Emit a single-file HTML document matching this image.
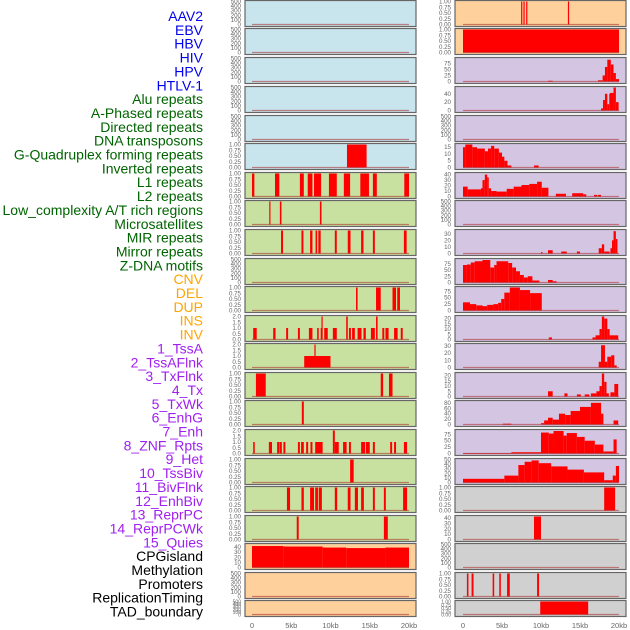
<!DOCTYPE html>
<html><head><meta charset="utf-8">
<style>
body{margin:0;background:#fff;}
svg{display:block;font-family:"Liberation Sans",sans-serif;}
</style></head>
<body>
<svg id="chart" width="630" height="630" viewBox="0 0 630 630"></svg>
<script>
const labels = ["AAV2","EBV","HBV","HIV","HPV","HTLV-1","Alu repeats","A-Phased repeats","Directed repeats","DNA transposons","G-Quadruplex forming repeats","Inverted repeats","L1 repeats","L2 repeats","Low_complexity A/T rich regions","Microsatellites","MIR repeats","Mirror repeats","Z-DNA motifs","CNV","DEL","DUP","INS","INV","1_TssA","2_TssAFlnk","3_TxFlnk","4_Tx","5_TxWk","6_EnhG","7_Enh","8_ZNF_Rpts","9_Het","10_TssBiv","11_BivFlnk","12_EnhBiv","13_ReprPC","14_ReprPCWk","15_Quies","CPGisland","Methylation","Promoters","ReplicationTiming","TAD_boundary"];
const labelColors = ["#0000ee","#0000ee","#0000ee","#0000ee","#0000ee","#0000ee","#006400","#006400","#006400","#006400","#006400","#006400","#006400","#006400","#006400","#006400","#006400","#006400","#006400","#ffa500","#ffa500","#ffa500","#ffa500","#ffa500","#a020f0","#a020f0","#a020f0","#a020f0","#a020f0","#a020f0","#a020f0","#a020f0","#a020f0","#a020f0","#a020f0","#a020f0","#a020f0","#a020f0","#a020f0","#000","#000","#000","#000","#000"];
const xTicks = [0,5,10,15,20];
const xTickLabels = ["0","5kb","10kb","15kb","20kb"];
const T500=[0,100,200,300,400,500], T1=[0,0.25,0.5,0.75,1], T2=[0,0.5,1,1.5,2];
const LB="#c8e4ec", GR="#c8e0a0", OR="#fdd09c", PU="#d4c6e2", GY="#d0d0d0";
const leftBg = [LB,LB,LB,LB,LB,LB,GR,GR,GR,GR,GR,GR,GR,GR,GR,GR,GR,GR,GR,OR,OR,OR];
const leftMax = [500,500,500,500,500,1,1,1,1,500,1,2,2,1,1,2,1,1,1,45,500,500];
const leftTicks = [T500,T500,T500,T500,T500,T1,T1,T1,T1,T500,T1,T2,T2,T1,T1,T2,T1,T1,T1,[0,10,20,30,40],T500,T500];
const leftSegs = [[],[],[],[],[],
 [[12.1,14.6,1]],
 [[0,0.3,1],[2.93,3.48,1],[6.1,6.6,1],[7.1,7.7,1],[7.9,8.8,1],[9.8,10.8,1],[11.7,12.5,1],[13.8,14.9,1],[15.4,15.9,1],[19.4,20,1]],
 [[2.2,2.35,1],[3.55,3.75,1],[8.65,8.85,1]],
 [[3.7,3.95,1],[6.3,6.55,1],[7.4,7.7,1],[8.1,8.3,1],[8.45,8.75,1],[10.55,10.8,1],[12.2,12.55,1],[13.9,14.2,1],[15.4,15.65,1],[19.35,19.7,1]],
 [],
 [[13.25,13.45,1],[15.8,16.4,1],[17.9,18.35,1],[18.5,18.85,1]],
 [[0.15,0.6,1],[2.7,3.0,1],[4.35,4.6,1],[5.85,6.1,1],[7.25,7.7,1],[8.3,8.5,1],[8.75,8.95,1],[8.85,8.95,2],[9.2,9.65,1],[10.3,10.8,1],[12.0,12.2,2],[12.35,12.6,1],[12.75,13.1,1],[13.45,13.95,1],[14.2,14.5,1],[15.15,15.65,1],[15.8,16.0,2],[16.6,16.85,1],[17.0,17.4,1],[18.1,18.55,1],[18.95,19.2,1]],
 [[6.65,10.0,1],[7.95,8.05,2]],
 [[0.5,1.75,1],[16.4,16.7,1],[17.45,17.9,1]],
 [[6.35,6.6,1]],
 [[0.15,0.35,1],[2.15,2.55,1],[3.2,3.5,1],[3.55,3.8,1],[4.0,4.25,1],[5.85,6.1,1],[6.25,6.6,1],[6.9,7.15,1],[7.45,7.7,1],[8.05,9.0,1],[10.3,10.55,2],[10.55,11.05,1],[11.6,12.05,1],[12.35,12.6,1],[13.9,14.4,1],[14.5,15.0,1],[15.4,15.65,1],[17.6,17.85,1],[18.1,18.35,1],[19.35,19.75,1]],
 [[12.5,12.95,1]],
 [[4.45,4.85,1],[6.3,6.6,1],[7.4,7.9,1],[8.05,8.4,1],[8.5,8.9,1],[10.55,10.85,1],[12.2,12.55,1],[13.1,13.5,1],[13.9,14.25,1],[15.4,15.65,1],[16.8,17.05,1],[19.25,19.75,1]],
 [[5.7,5.95,1],[16.8,17.3,1]],
 [[0,4,42],[4,9,41],[9,12,39],[12,17,38],[17,20,39]],
 [],[]];
const rightBg = [OR,OR,PU,PU,PU,PU,PU,PU,PU,PU,PU,PU,PU,PU,PU,PU,PU,GY,GY,GY,GY,GY];
const rightMax = [1,1,95,55,500,17,42,500,35,92,90,22,32,22,85,90,50,1,43,500,1,1];
const rightTicks = [T1,T1,[0,25,50,75],[0,20,40],T500,[0,5,10,15],[0,10,20,30,40],T500,[0,10,20,30],[0,25,50,75],[0,25,50,75],[0,5,10,15,20],[0,10,20,30],[0,5,10,15,20],[0,20,40,60,80],[0,25,50,75],[0,10,20,30,40,50],T1,[0,10,20,30,40],T500,T1,T1];
const rightSegs = [
 [[7.45,7.6,1],[7.75,7.85,1],[8.1,8.25,1],[13.45,13.6,1]],
 [[0,20,1]],
 [[10.9,11.5,3],[17.3,17.9,5],[17.9,18.2,25],[18.2,18.5,60],[18.5,18.95,90],[18.95,19.3,70],[19.3,19.6,35],[19.6,20,10]],
 [[17.7,17.95,5],[17.95,18.2,25],[18.2,18.5,40],[18.5,18.75,15],[18.75,18.85,40],[18.85,19.3,42],[19.3,19.6,55],[19.6,19.95,20]],
 [],
 [[0,0.3,15],[0.3,1.2,17],[1.2,1.8,15],[1.8,2.8,14],[2.8,3.2,12],[3.2,3.6,14],[3.6,4.0,16],[4.0,4.6,14],[4.6,5.0,11],[5.0,5.3,8],[5.3,5.7,5],[5.7,6.2,1.5],[9.1,9.7,1.5]],
 [[0,0.6,18],[0.6,2.3,13],[2.3,2.5,15],[2.5,2.8,30],[2.8,3.1,40],[3.1,3.3,35],[3.3,3.6,15],[3.6,4.3,10],[4.3,5.6,9],[5.6,6.5,14],[6.5,7.5,18],[7.5,8.5,21],[8.5,9.5,23],[9.5,10.1,27],[10.1,10.95,16],[11.9,13.2,5],[14.0,15.4,6],[15.4,15.8,4],[16.8,17.2,3],[17.3,17.7,3]],
 [],
 [[10.0,10.2,2],[10.9,11.5,5],[12.6,13.3,3],[14.6,15.0,3],[17.4,17.8,8],[17.8,18.1,14],[18.1,18.8,3],[18.9,19.1,8],[19.1,19.3,20],[19.3,19.6,34],[19.6,19.8,22]],
 [[0,0.5,70],[0.5,1,72],[1,1.5,80],[1.5,2.5,85],[2.5,3.5,90],[3.5,4,60],[4,4.3,70],[4.3,5.8,85],[5.8,6.3,78],[6.3,6.8,60],[6.8,7.3,45],[7.3,7.8,30],[7.8,8.3,20],[8.3,8.9,25],[8.9,9.8,8],[10.9,11.5,10],[11.5,12,5]],
 [[0,0.9,32],[0.9,1.7,25],[1.7,2.5,20],[2.5,3.1,17],[3.1,3.9,22],[3.9,4.5,25],[4.5,4.9,30],[4.9,5.3,45],[5.3,6.0,70],[6.0,7.3,90],[7.3,8.6,80],[8.6,10.1,68]],
 [[11.0,11.4,2],[16.6,17.0,2],[17.0,17.5,4],[17.5,17.8,10],[17.8,18.1,22],[18.1,18.5,20],[18.5,18.8,10],[18.8,19.9,4]],
 [[17.4,17.7,8],[17.7,18.2,31],[18.2,18.5,8],[18.5,19.0,15],[19.0,19.4,17],[19.4,19.7,3]],
 [[10.9,11.5,5],[13.0,13.4,3],[14.6,15.1,2],[15.6,16.2,2],[16.4,17.1,3],[17.1,17.5,5],[17.5,17.8,10],[17.8,18.1,22],[18.1,18.4,14],[18.4,18.7,3],[18.9,19.4,4],[19.4,19.9,12]],
 [[5.1,6.2,3],[10.0,10.4,5],[10.4,10.9,15],[10.9,11.5,25],[11.5,12.3,18],[12.3,13.1,40],[13.1,13.8,35],[13.8,15.0,50],[15.0,16.4,65],[16.4,17.7,80],[17.7,18.0,40],[19.3,19.9,15]],
 [[0,6.2,2],[6.2,10.0,5],[10.0,11.0,82],[11.0,11.6,78],[11.6,12.9,88],[12.9,13.3,70],[13.3,14.6,80],[14.6,15.6,65],[15.6,16.9,50],[16.9,18.0,35],[18.0,19.3,8],[19.3,19.7,55]],
 [[0,5.3,8],[5.3,7.1,15],[7.1,7.9,38],[7.9,8.8,45],[8.8,9.7,48],[9.7,11.3,42],[11.3,13.4,35],[13.4,15.5,28],[15.5,18.1,22],[18.1,19.2,5],[19.2,19.6,15],[19.6,20,36]],
 [[18.1,19.5,1]],
 [[9.1,10.0,43]],
 [],
 [[0.5,0.7,1],[1.1,1.35,1],[3.8,4.0,1],[4.65,4.85,1],[5.65,6.0,1],[9.5,9.75,1]],
 [[9.9,16.05,1]]
];
const svg = document.getElementById('chart');
const NS = 'http://www.w3.org/2000/svg';
function mk(tag, attrs, parent){const e=document.createElementNS(NS,tag);for(const k in attrs)e.setAttribute(k,attrs[k]);(parent||svg).appendChild(e);return e;}
const rowTops=[0,28,57,86,115,143,172,200,229,258,286,315,343,372,400,429,458,486,515,543,572,600];
function rowH(i){return i===rowTops.length-1?16:26;}
labels.forEach((t,i)=>{
  const e=mk('text',{x:203,y:21+i*13.85,'text-anchor':'end','font-size':14,fill:labelColors[i]});
  e.textContent=t;
  
  
});
function xScaleL(k){return 252+k*7.85;}
function xScaleR(k){return 463+k*7.8;}
function drawPanel(col,i,bg,ymax,ticks,segs){
  const fx = col===0?245:455, fw=171;
  const top=rowTops[i], h=rowH(i);
  const xs = col===0?xScaleL:xScaleR;
  const g=mk('g',{});
  
  
  mk('rect',{x:fx,y:top+0.5,width:fw,height:h,fill:bg},g);
  const y0=top+h-1.5, y1=top+1.5;
  const ys=v=>y0-(v/ymax)*(y0-y1);
  segs.forEach(s=>{
    const r=mk('rect',{x:xs(s[0]),y:ys(s[2]),width:Math.max(1.2,xs(s[1])-xs(s[0])),height:y0-ys(s[2]),fill:'#ff0000'},g);
    
    
  });
  mk('line',{x1:xs(0),x2:xs(20),y1:y0,y2:y0,stroke:'rgba(170,40,40,0.55)','stroke-width':1.2},g);
  mk('rect',{x:fx,y:top+0.5,width:fw,height:h,fill:'none',stroke:'#666','stroke-width':1.2},g);
  const fs = h<20?5:6.2;
  ticks.forEach(t=>{
    const lab=mk('text',{x:fx-4,y:ys(t)+2,'text-anchor':'end','font-size':fs,fill:'#666'},g);
    lab.textContent = (ticks===T1)?t.toFixed(2):(ticks===T2?t.toFixed(1):String(t));
    
    
  });
}
for(let i=0;i<22;i++){
  drawPanel(0,i,leftBg[i],leftMax[i],leftTicks[i],leftSegs[i]);
  drawPanel(1,i,rightBg[i],rightMax[i],rightTicks[i],rightSegs[i]);
}
[0,1].forEach(col=>{
  const xs=col===0?xScaleL:xScaleR;
  xTicks.forEach((k,j)=>{
    const e=mk('text',{x:xs(k),y:628,'text-anchor':'middle','font-size':7.5,fill:'#666'});
    e.textContent=xTickLabels[j];
    
    
  });
});
</script>
</body></html>
